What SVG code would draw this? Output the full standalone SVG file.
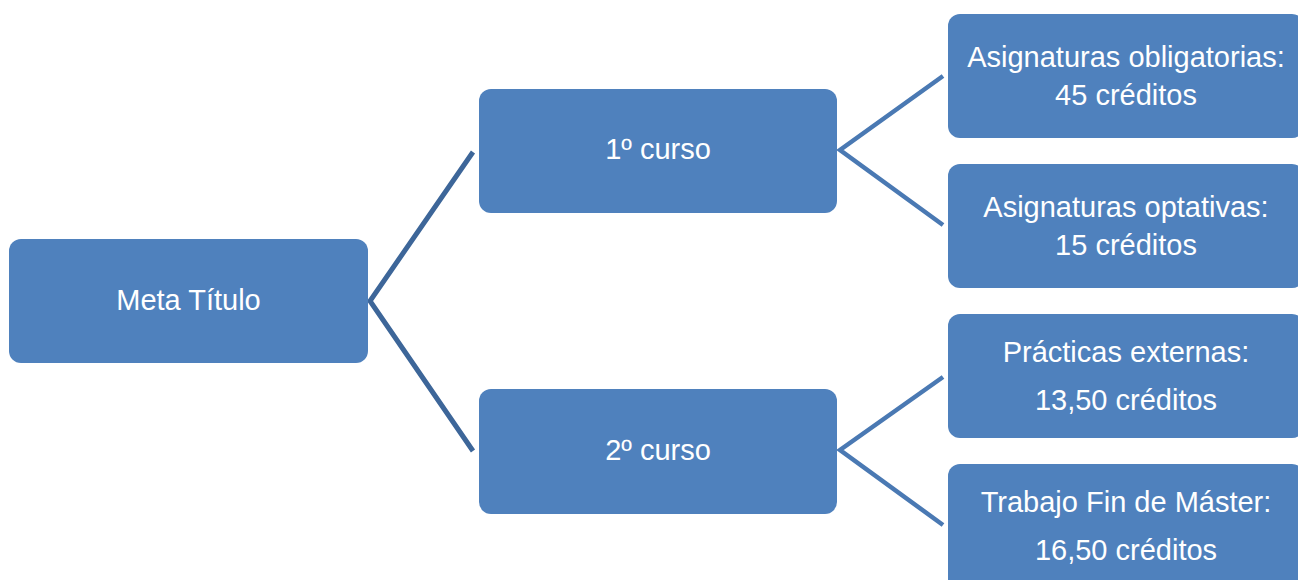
<svg xmlns="http://www.w3.org/2000/svg" width="1298" height="580" viewBox="0 0 1298 580">
<style>
.box{fill:#4F81BD;}
.t{font-family:"Liberation Sans",Arial,sans-serif;font-size:29px;fill:#ffffff;text-anchor:middle;}
.c1{fill:none;stroke:#3D6699;stroke-width:5;}
.c2{fill:none;stroke:#4A79B3;stroke-width:4.5;}
</style>
<rect width="1298" height="580" fill="#ffffff"/>
<g id="connectors">
<polyline class="c1" points="473,152 370,301 473,451"/>
<polyline class="c2" points="943,76 840,150 943,225"/>
<polyline class="c2" points="943,377 840,450 943,525"/>
</g>
<g id="meta">
<rect class="box" x="9" y="239" width="359" height="124" rx="12"/>
<text class="t" x="188.5" y="310">Meta Título</text>
</g>
<g id="curso1">
<rect class="box" x="479" y="89" width="358" height="124" rx="12"/>
<text class="t" x="658" y="159">1º curso</text>
</g>
<g id="curso2">
<rect class="box" x="479" y="389" width="358" height="125" rx="12"/>
<text class="t" x="658" y="460">2º curso</text>
</g>
<g id="obligatorias">
<rect class="box" x="948" y="14" width="356" height="124" rx="12"/>
<text class="t" x="1126" y="67">Asignaturas obligatorias:</text>
<text class="t" x="1126" y="105">45 créditos</text>
</g>
<g id="optativas">
<rect class="box" x="948" y="164" width="356" height="124" rx="12"/>
<text class="t" x="1126" y="217">Asignaturas optativas:</text>
<text class="t" x="1126" y="255">15 créditos</text>
</g>
<g id="practicas">
<rect class="box" x="948" y="314" width="356" height="124" rx="12"/>
<text class="t" x="1126" y="362">Prácticas externas:</text>
<text class="t" x="1126" y="410">13,50 créditos</text>
</g>
<g id="tfm">
<rect class="box" x="948" y="464" width="356" height="130" rx="12"/>
<text class="t" x="1126" y="512">Trabajo Fin de Máster:</text>
<text class="t" x="1126" y="560">16,50 créditos</text>
</g>
</svg>
